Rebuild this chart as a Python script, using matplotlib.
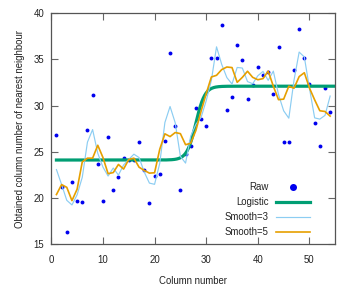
import numpy as np
import matplotlib
matplotlib.use('Agg')
import matplotlib.pyplot as plt

plt.rcParams['font.family'] = ['Liberation Sans', 'DejaVu Sans']

# ─────────────────────────────────────────────────────────────
# Data
# ─────────────────────────────────────────────────────────────
col = np.arange(1, 55)
raw = np.array([26.8, 21.2, 16.3, 21.7, 19.7, 19.6, 27.4, 31.1, 23.7, 19.7,
                26.6, 20.8, 22.3, 24.3, 24.1, 24.1, 26.0, 23.0, 19.4, 22.4,
                22.6, 26.2, 35.7, 27.8, 20.9, 24.8, 25.6, 29.7, 28.6, 27.8,
                35.2, 35.2, 38.7, 29.5, 30.9, 36.6, 34.9, 30.7, 32.2, 34.2,
                33.3, 33.6, 31.3, 36.3, 26.0, 26.0, 33.9, 38.3, 35.2, 32.3,
                28.1, 25.6, 31.9, 29.3])

# fitted logistic (low plateau, high plateau, midpoint, steepness)
log_low, log_high, log_mid, log_k = 24.1, 32.1, 28.0, 1.15
log_x = np.linspace(1, 55, 400)
log_y = log_low + (log_high - log_low) / (1 + np.exp(-log_k * (log_x - log_mid)))

def moving_average(y, n):
    h = n // 2
    p = np.pad(y, h, mode='reflect')
    return np.convolve(p, np.ones(n) / n, mode='valid')

smooth3 = moving_average(raw, 3)
smooth5 = moving_average(raw, 5)

# ─────────────────────────────────────────────────────────────
# Figure
# ─────────────────────────────────────────────────────────────
fig = plt.figure(figsize=(3.63, 2.91), dpi=100)
ax = fig.add_axes([0.1413, 0.1615, 0.7824, 0.7928])

ax.plot(col, raw, 'o', color='#0000ee', markersize=2.8, markeredgewidth=0, label='Raw')
ax.plot(log_x, log_y, '-', color='#009e73', linewidth=2.3, label='Logistic')
ax.plot(col, smooth3, '-', color='#8ccdf2', linewidth=0.85, label='Smooth=3')
ax.plot(col, smooth5, '-', color='#e69f00', linewidth=1.2, label='Smooth=5')

ax.set_xlim(0, 55)
ax.set_ylim(15, 40)
ax.set_xticks([0, 10, 20, 30, 40, 50])
ax.set_yticks([15, 20, 25, 30, 35, 40])

fs = 6.9
ax.tick_params(direction='in', length=5, width=0.8, color='#666666',
               top=True, right=True, labelsize=fs, labelcolor='#222222')
ax.tick_params(axis='x', pad=8)
ax.tick_params(axis='y', pad=5)
for s in ax.spines.values():
    s.set_color('#555555')
    s.set_linewidth(0.9)

ax.set_xlabel('Column number', fontsize=fs, color='#222222', labelpad=8)
ax.set_ylabel('Obtained column number of nearest neighbour', fontsize=fs,
              color='#222222', labelpad=6)

leg = ax.legend(loc='lower right', frameon=False, markerfirst=False,
                fontsize=fs, handlelength=3.5, handletextpad=0.8,
                labelspacing=0.53, markerscale=1.8,
                bbox_to_anchor=(0.94, -0.008))
for t in leg.get_texts():
    t.set_color('#222222')

fig.savefig('out.png', dpi=100)
